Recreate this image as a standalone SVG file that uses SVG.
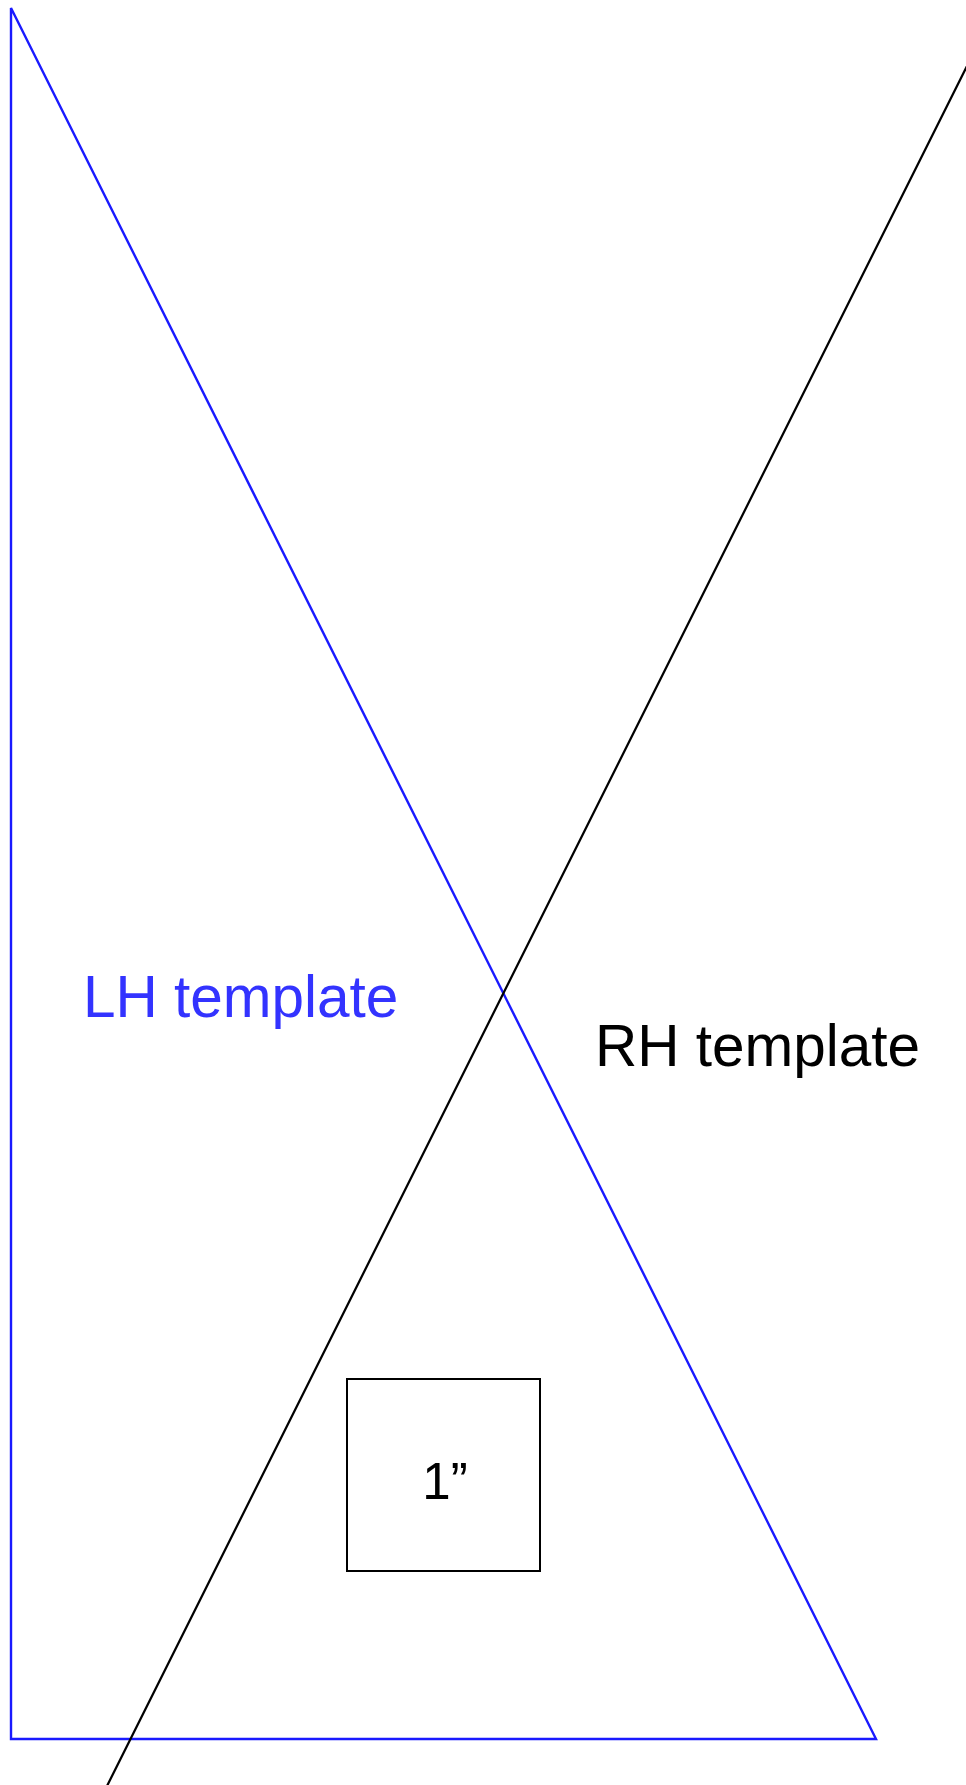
<svg xmlns="http://www.w3.org/2000/svg" width="966" height="1785" viewBox="0 0 966 1785">
<style>
.lh{fill:none;stroke:#1a1aff;stroke-width:2.4}
.rh{fill:none;stroke:#000;stroke-width:2.2}
.t{font-family:"Liberation Sans",Arial,sans-serif;font-size:58.5px}
</style>
<rect width="966" height="1785" fill="#fff"/>
<g id="lh-template">
<polygon class="lh" points="11,8 11,1739 876,1739"/>
</g>
<g id="rh-template">
<line class="rh" x1="1000" y1="0" x2="107" y2="1786"/>
</g>
<g id="lh-label"><text class="t" x="83" y="1017" fill="#3333ff">LH template</text></g>
<g id="rh-label"><text class="t" x="595" y="1066" fill="#000">RH template</text></g>
<g id="inch">
<rect x="347" y="1379" width="193" height="192" fill="none" stroke="#000" stroke-width="2"/>
<text x="445" y="1499" text-anchor="middle" font-family="Liberation Sans,Arial,sans-serif" font-size="51" fill="#000">1”</text>
</g>
</svg>
